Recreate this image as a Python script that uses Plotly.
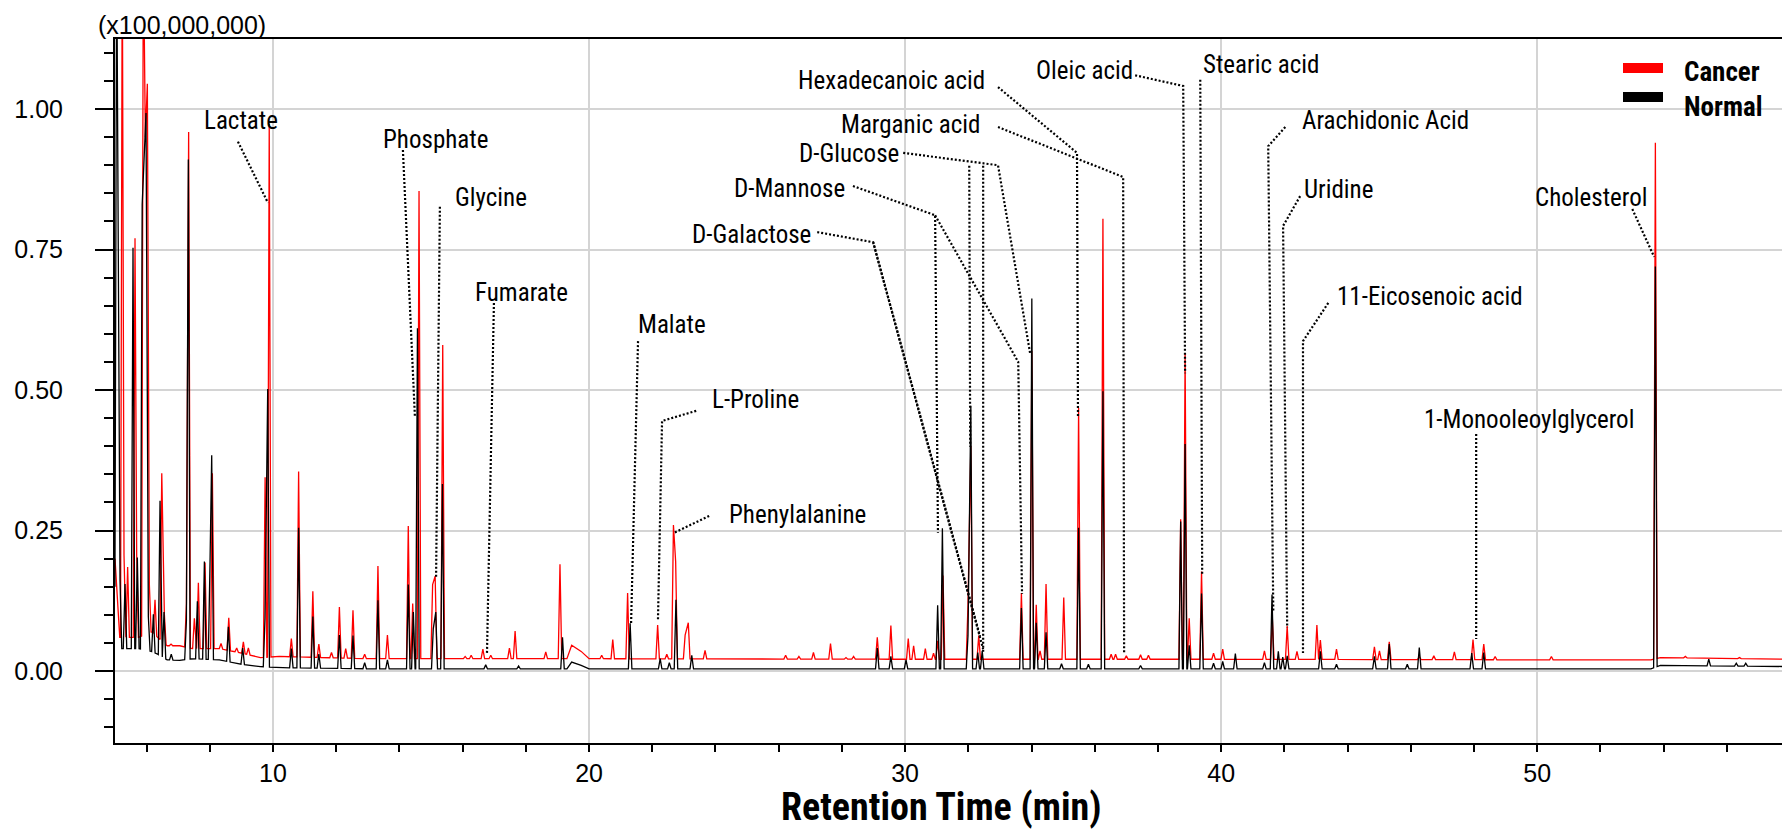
import numpy as np
import plotly.graph_objects as go

# ---------------- data ----------------
# Retention times (min) and apex heights (x100,000,000) of the Cancer trace
cancer_rt = [5.23, 5.285, 5.40, 5.633, 5.686, 5.897, 5.96, 6.024, 6.087, 6.266, 6.48, 6.562, 6.773,
             7.26, 7.33, 7.511, 7.638, 7.849, 8.081, 8.355, 8.60, 8.851, 9.062, 9.22, 9.75, 9.88,
             10.58, 10.81, 11.26, 11.45, 11.85, 12.10, 12.30, 12.53, 12.90, 13.32, 13.62,
             14.28, 14.42, 14.62, 15.05, 15.13, 15.37, 16.08, 16.27, 16.64, 16.89, 17.48, 17.66,
             18.63, 19.08, 20.40, 20.75, 21.22, 22.17, 22.46, 22.67, 22.74, 23.04, 23.14, 23.67,
             26.22, 26.64, 27.10, 27.64, 28.13, 28.37, 29.12, 29.55, 30.10, 30.27, 30.64, 30.90,
             31.03, 31.20, 31.99, 32.08, 32.33, 33.68, 34.01, 34.15, 34.27, 34.46, 35.02, 35.49,
             36.26, 36.52, 36.66, 37.00, 37.45, 37.70, 38.72, 38.86, 38.99, 39.38, 39.76, 40.05,
             41.37, 41.62, 42.09, 42.40, 43.03, 43.14, 43.65, 44.85, 45.01, 45.32, 46.27, 46.73,
             47.38, 47.97, 48.31, 48.67, 50.45, 53.74, 54.69, 56.40]
cancer_h = [1.30, 0.206, 0.185, 0.770, 0.206, 1.30, 0.95, 1.045, 0.154, 0.127, 0.352, 0.101, 0.048,
            0.12, 0.959, 0.094, 0.157, 0.193, 0.352, 0.049, 0.095, 0.041, 0.052, 0.041, 0.345, 0.974,
            0.058, 0.355, 0.142, 0.048, 0.033, 0.114, 0.040, 0.108, 0.030, 0.187, 0.064,
            0.258, 0.120, 0.854, 0.154, 0.169, 0.580, 0.026, 0.028, 0.039, 0.028, 0.041, 0.071,
            0.034, 0.190, 0.028, 0.056, 0.139, 0.082, 0.030, 0.260, 0.195, 0.064, 0.086, 0.037,
            0.028, 0.026, 0.033, 0.049, 0.024, 0.026, 0.060, 0.081, 0.058, 0.045, 0.040, 0.032,
            0.054, 0.170, 0.118, 0.400, 0.063, 0.139, 0.570, 0.118, 0.036, 0.155, 0.131, 0.468,
            0.805, 0.030, 0.030, 0.027, 0.029, 0.028, 0.270, 0.566, 0.094, 0.177, 0.032, 0.039,
            0.036, 0.094, 0.080, 0.035, 0.082, 0.055, 0.039, 0.043, 0.036, 0.052, 0.026, 0.027,
            0.034, 0.056, 0.048, 0.026, 0.026, 0.940, 0.026, 0.024]

# Normal trace
normal_rt = [5.053, 5.159, 5.317, 5.570, 5.707, 5.86, 5.92, 5.981, 6.055, 6.214, 6.425, 6.551, 6.78,
             7.26, 7.321, 7.606, 7.828, 8.007, 8.060, 8.587, 9.041, 9.747, 9.832,
             10.58, 10.81, 11.26, 11.45, 12.10, 12.53, 12.90, 13.32, 13.62,
             14.28, 14.44, 14.57, 15.07, 15.15, 15.36, 16.73, 17.77, 19.16, 21.30, 22.25, 22.54,
             22.75, 23.25, 29.12, 29.55, 30.03, 31.03, 31.18, 31.99, 32.08, 32.30, 32.44,
             33.68, 34.01, 34.15, 34.46, 34.95, 35.49, 35.80, 36.26, 37.45, 38.72, 38.86, 38.99,
             39.38, 39.76, 40.05, 40.45, 41.37, 41.61, 41.81, 41.95, 42.09, 43.14, 43.65, 44.85,
             45.32, 45.89, 46.27, 47.93, 48.31, 53.74, 55.43, 56.30, 56.60]
normal_h = [1.30, 0.161, 0.155, 0.753, 0.202, 0.83, 0.93, 0.993, 0.097, 0.101, 0.303, 0.105, 0.030,
            0.09, 0.910, 0.124, 0.195, 0.195, 0.384, 0.079, 0.041, 0.094, 0.502,
            0.040, 0.255, 0.097, 0.030, 0.064, 0.063, 0.015, 0.126, 0.020,
            0.154, 0.105, 0.610, 0.075, 0.105, 0.333, 0.011, 0.009, 0.060, 0.085, 0.022, 0.015,
            0.127, 0.028, 0.041, 0.026, 0.020, 0.117, 0.254, 0.063, 0.472, 0.033, 0.036,
            0.112, 0.663, 0.086, 0.069, 0.013, 0.255, 0.012, 0.498, 0.010, 0.266, 0.404, 0.046,
            0.138, 0.014, 0.017, 0.031, 0.015, 0.136, 0.035, 0.025, 0.027, 0.035, 0.012, 0.026,
            0.048, 0.012, 0.042, 0.032, 0.033, 0.720, 0.021, 0.014, 0.014]

# Baselines between the peaks
cancer_base_rt = [5.0, 5.15, 5.5, 5.75, 6.15, 6.35, 6.65, 7.05, 7.45, 8.3, 9.0, 9.6, 10.2, 13.0,
                  19.3, 19.45, 19.75, 20.0, 30.0, 40.0, 50.0, 53.6, 53.9, 58.0]
cancer_base = [0.20, 0.06, 0.06, 0.06, 0.07, 0.06, 0.045, 0.045, 0.04, 0.04, 0.032, 0.024, 0.026, 0.022,
               0.022, 0.046, 0.035, 0.022, 0.021, 0.021, 0.020, 0.020, 0.024, 0.021]
normal_base_rt = [5.0, 5.15, 5.5, 5.75, 6.15, 6.35, 6.65, 7.05, 7.45, 8.3, 9.0, 9.6, 10.2, 13.0,
                  19.3, 19.45, 19.75, 20.0, 30.0, 40.0, 50.0, 53.6, 53.9, 58.0]
normal_base = [0.15, 0.04, 0.04, 0.04, 0.035, 0.03, 0.02, 0.019, 0.022, 0.02, 0.012, 0.008, 0.006, 0.004,
               0.004, 0.016, 0.010, 0.004, 0.004, 0.004, 0.004, 0.004, 0.010, 0.008]

# Compound labels: text, label anchor (rt, intensity) and leader polylines
compounds = ["Lactate", "Phosphate", "Glycine", "Fumarate", "Malate", "L-Proline", "Phenylalanine",
             "D-Galactose", "D-Mannose", "D-Glucose", "Marganic acid", "Hexadecanoic acid",
             "Oleic acid", "Stearic acid", "Arachidonic Acid", "Uridine", "11-Eicosenoic acid",
             "1-Monooleoylglycerol", "Cholesterol"]
label_rt = [7.75, 13.42, 15.70, 16.33, 21.49, 23.83, 24.37, 23.20, 24.53, 26.58, 27.91, 26.55,
            34.08, 39.37, 42.50, 42.56, 43.61, 46.36, 49.87]
label_y = [0.980, 0.945, 0.842, 0.674, 0.616, 0.484, 0.278, 0.776, 0.858, 0.920, 0.972, 1.050,
           1.068, 1.080, 0.980, 0.856, 0.667, 0.448, 0.842]
leaders = [
    [[(8.89, 0.942), (9.84, 0.833)]],
    [[(14.11, 0.927), (14.49, 0.452)]],
    [[(15.28, 0.826), (15.16, 0.167)]],
    [[(16.99, 0.655), (16.77, 0.032)]],
    [[(21.55, 0.587), (21.33, 0.085)]],
    [[(23.39, 0.463), (22.31, 0.445), (22.18, 0.089)]],
    [[(23.80, 0.276), (22.69, 0.246)]],
    [[(27.22, 0.781), (28.99, 0.763), (32.37, 0.062)], [(28.99, 0.763), (32.47, 0.039)]],
    [[(28.35, 0.863), (30.95, 0.811), (31.04, 0.246)], [(30.95, 0.811), (33.58, 0.550), (33.70, 0.137)]],
    [[(29.94, 0.922), (32.94, 0.900), (33.96, 0.564)], [(32.03, 0.899), (32.06, 0.399)],
     [(32.47, 0.899), (32.47, 0.032)]],
    [[(32.94, 0.968), (36.90, 0.879), (36.93, 0.032)]],
    [[(32.94, 1.039), (35.44, 0.922), (35.47, 0.452)]],
    [[(37.28, 1.060), (38.80, 1.041), (38.86, 0.530)]],
    [[(39.34, 1.052), (39.40, 0.171)]],
    [[(42.03, 0.968), (41.49, 0.934), (41.65, 0.107)]],
    [[(42.50, 0.845), (41.96, 0.792), (42.09, 0.077)]],
    [[(43.39, 0.655), (42.59, 0.587), (42.59, 0.032)]],
    [[(48.07, 0.422), (48.07, 0.057)]],
    [[(53.01, 0.822), (53.70, 0.737)]],
]

series_names = ["Cancer", "Normal"]
series_colors = ["#ff0000", "#000000"]

# ---------------- build traces ----------------
HALF_W = 0.055


def chromatogram(peak_rt, peak_h, base_rt, base_v, w=HALF_W):
    prt = np.asarray(peak_rt, float)
    ph = np.asarray(peak_h, float)
    brt = np.asarray(base_rt, float)
    bv = np.asarray(base_v, float)

    def inside(x):
        return bool((np.abs(prt - x) < w - 1e-9).any())

    pts = [(x, y) for x, y in zip(brt, bv) if not inside(x)]
    for x, y in zip(prt, ph):
        pts.append((x, y))
        for fx in (x - w, x + w):
            if not inside(fx):
                pts.append((fx, float(np.interp(fx, brt, bv))))
    pts.sort()
    return [p[0] for p in pts], [p[1] for p in pts]


fig = go.Figure()
cx, cy = chromatogram(cancer_rt, cancer_h, cancer_base_rt, cancer_base)
nx, ny = chromatogram(normal_rt, normal_h, normal_base_rt, normal_base)
fig.add_trace(go.Scatter(x=cx, y=cy, mode="lines", name=series_names[0],
                         line=dict(color=series_colors[0], width=1.3), hoverinfo="skip"))
fig.add_trace(go.Scatter(x=nx, y=ny, mode="lines", name=series_names[1],
                         line=dict(color=series_colors[1], width=1.3), hoverinfo="skip"))

for segs in leaders:
    for seg in segs:
        fig.add_trace(go.Scatter(x=[p[0] for p in seg], y=[p[1] for p in seg], mode="lines",
                                 line=dict(color="black", width=2.2, dash="2px,2px"),
                                 hoverinfo="skip", showlegend=False))

NARROW = "Liberation Sans Narrow, Arial Narrow, Roboto Condensed, DejaVu Sans Condensed, Liberation Sans, Arial, sans-serif"
REG = "Liberation Sans, Arial, Helvetica, sans-serif"

annotations = []
for name, lx, ly in zip(compounds, label_rt, label_y):
    annotations.append(dict(x=lx, y=ly, xref="x", yref="y", text=name, showarrow=False,
                            xanchor="left", yanchor="middle",
                            font=dict(family=NARROW, size=25, color="black")))

# The page body has an 8 px margin, so the figure is laid out 8 px smaller and
# all page positions below are shifted accordingly.
OFF = 8
FIG_W, FIG_H = 1790 - OFF, 830 - OFF
# plot area in page pixels: x 115..1790, y 39..743
L, R, T, B = 115, 1790, 39, 743


def px(x):
    return (x - L) / (R - L)


def py(y):
    return (B - y) / (B - T)


annotations.append(dict(x=px(97), y=py(25), xref="paper", yref="paper", text="(x100,000,000)",
                        showarrow=False, xanchor="left", yanchor="middle", borderpad=0,
                        font=dict(family=REG, size=25, color="black")))
annotations.append(dict(x=px(941), y=py(807), xref="paper", yref="paper", text="<b>Retention Time (min)</b>",
                        showarrow=False, xanchor="center", yanchor="middle", borderpad=0,
                        font=dict(family=NARROW, size=38, color="black")))

shapes = []
legend_y = [68, 97]
for name, col, ly in zip(series_names, series_colors, legend_y):
    shapes.append(dict(type="line", xref="paper", yref="paper", x0=px(1623), x1=px(1663),
                       y0=py(ly), y1=py(ly), line=dict(color=col, width=10)))
annotations.append(dict(x=px(1683), y=py(89), xref="paper", yref="paper",
                        text="<b>%s<br>%s</b>" % tuple(series_names), align="left",
                        showarrow=False, xanchor="left", yanchor="middle", borderpad=0,
                        font=dict(family=NARROW, size=27, color="black")))

fig.update_layout(
    width=FIG_W, height=FIG_H,
    margin=dict(l=L - OFF, r=1790 - R, t=T - OFF, b=830 - B, autoexpand=False),
    plot_bgcolor="white", paper_bgcolor="white",
    showlegend=False,
    annotations=annotations, shapes=shapes,
    xaxis=dict(range=[5.0, 58.0], tick0=0, dtick=10, ticks="outside", ticklen=7, tickwidth=1.5,
               tickcolor="black", showline=True, linecolor="black", linewidth=2, mirror=True,
               showgrid=True, gridcolor="#d4d4d4", gridwidth=1.5, zeroline=False, automargin=False,
               tickfont=dict(family=REG, size=25, color="black"),
               minor=dict(dtick=2, tick0=0, ticks="outside", ticklen=7, tickwidth=1.5,
                          tickcolor="black", showgrid=False)),
    yaxis=dict(range=[-0.128, 1.1246], tick0=0, dtick=0.25, tickformat=".2f", ticks="outside",
               ticklen=18, tickwidth=1.5, tickcolor="black", showline=True, linecolor="black",
               linewidth=2, showgrid=True, gridcolor="#d4d4d4", gridwidth=1.5, zeroline=False,
               ticklabelstandoff=27, automargin=False,
               tickfont=dict(family=REG, size=25, color="black"),
               minor=dict(dtick=0.05, tick0=0, ticks="outside", ticklen=9, tickwidth=1.5,
                          tickcolor="black", showgrid=False)),
)

fig.write_html("out.html")
